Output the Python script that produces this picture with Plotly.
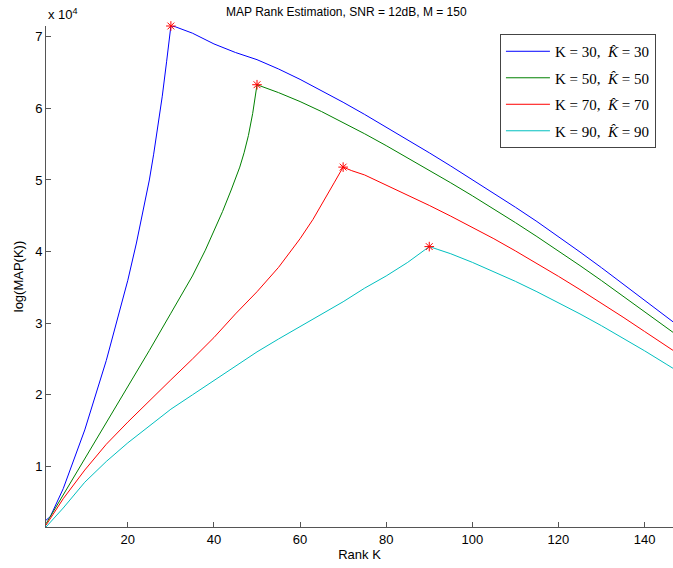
import plotly.graph_objects as go

# ---------------- data (values in units of 1e4) ----------------
K_30 = [1, 2, 5, 10, 15, 20, 22, 25, 26, 27, 28, 29, 30, 31, 32, 35, 40, 45, 50,
        55, 60, 65, 70, 75, 80, 85, 90, 95, 100, 105, 110, 115, 120, 125, 130, 135, 140, 145, 150]
V_30 = [0.25, 0.30, 0.69, 1.51, 2.48, 3.60, 4.12, 5.00, 5.36, 5.75, 6.17, 6.65, 7.15, 7.14, 7.12, 7.05,
        6.90, 6.78, 6.68,
        6.55, 6.405, 6.25, 6.085, 5.915, 5.74, 5.56, 5.38, 5.195, 5.005, 4.815, 4.62, 4.42, 4.21, 3.995,
        3.775, 3.55, 3.325, 3.095, 2.865]

K_50 = [1, 2, 5, 10, 15, 20, 25, 30, 35, 38, 40, 42, 44, 46, 47, 48, 49, 50,
        55, 60, 65, 70, 75, 80, 85, 90, 95, 100, 105, 110, 115, 120, 125, 130, 135, 140, 145, 150]
V_50 = [0.20, 0.30, 0.60, 1.12, 1.62, 2.12, 2.62, 3.14, 3.66, 4.02, 4.28, 4.56, 4.86, 5.18, 5.38, 5.62,
        5.93, 6.33,
        6.22, 6.095, 5.955, 5.805, 5.645, 5.48, 5.31, 5.135, 4.96, 4.78, 4.595, 4.405, 4.21, 4.01, 3.805,
        3.595, 3.38, 3.165, 2.945, 2.725]

K_70 = [1, 2, 5, 10, 15, 20, 25, 30, 35, 40, 45, 50, 55, 58, 60, 63, 65, 68, 70, 72, 75,
        80, 85, 90, 95, 100, 105, 110, 115, 120, 125, 130, 135, 140, 145, 150]
V_70 = [0.18, 0.27, 0.55, 0.95, 1.31, 1.62, 1.92, 2.21, 2.50, 2.80, 3.13, 3.44, 3.78, 4.01, 4.18, 4.45,
        4.65, 4.97, 5.18, 5.13, 5.07,
        4.93, 4.79, 4.645, 4.495, 4.34, 4.18, 4.01, 3.835, 3.655, 3.47, 3.28, 3.085, 2.885, 2.685, 2.485]

K_90 = [1, 2, 5, 10, 15, 20, 25, 30, 35, 40, 45, 50, 55, 60, 65, 70, 75, 80, 85, 88, 90, 92, 95,
        100, 105, 110, 115, 120, 125, 130, 135, 140, 145, 150]
V_90 = [0.155, 0.22, 0.42, 0.78, 1.07, 1.33, 1.57, 1.80, 2.00, 2.20, 2.41, 2.60, 2.78, 2.95, 3.12, 3.30,
        3.49, 3.66, 3.85, 3.98, 4.07, 4.03, 3.97,
        3.85, 3.72, 3.585, 3.44, 3.29, 3.13, 2.965, 2.795, 2.615, 2.43, 2.245]

SERIES_NAMES = ["K = 30,  <i>K̂</i> = 30", "K = 50,  <i>K̂</i> = 50",
                "K = 70,  <i>K̂</i> = 70", "K = 90,  <i>K̂</i> = 90"]
X_TICKS = [20, 40, 60, 80, 100, 120, 140]
Y_TICKS = [1, 2, 3, 4, 5, 6, 7]
Y_TICK_LABELS = ["1", "2", "3", "4", "5", "6", "7"]

COLORS = ["#0000ff", "#008000", "#ff0000", "#00bfbf"]

fig = go.Figure()
series = [(K_30, V_30), (K_50, V_50), (K_70, V_70), (K_90, V_90)]
for i, ((k, v), name, c) in enumerate(zip(series, SERIES_NAMES, COLORS)):
    fig.add_trace(go.Scatter(x=k, y=v, mode="lines", name=name, legendgroup=f"g{i}",
                             line=dict(color=c, width=1)))

# peak markers
pk_x, pk_y = [], []
for k, v in series:
    i = v.index(max(v))
    pk_x.append(k[i])
    pk_y.append(v[i])
fig.add_trace(go.Scatter(x=pk_x, y=pk_y, mode="markers", showlegend=False,
                         cliponaxis=False,
                         marker=dict(symbol="asterisk-open", size=8, color="#ff0000",
                                     line=dict(color="#ff0000", width=1))))

axis_font = dict(family="Liberation Sans, Arial, sans-serif", size=13, color="#000")
fig.update_layout(
    width=673, height=568,
    margin=dict(l=46, r=0, t=26, b=41),
    paper_bgcolor="white", plot_bgcolor="white",
    font=axis_font,
    title=dict(text="MAP Rank Estimation, SNR = 12dB, M = 150", x=0.479, xref="paper",
               xanchor="center", yref="container", y=0.979, yanchor="middle",
               font=dict(family="Liberation Sans, Arial, sans-serif", size=12, color="#000")),
    xaxis=dict(range=[1, 146.6], tickvals=X_TICKS, ticks="inside", ticklen=5,
               tickcolor="#555", showline=True, linecolor="#555", linewidth=1,
               showgrid=False, zeroline=False, mirror=False, automargin=False,
               title=dict(text="Rank K", standoff=2, font=axis_font)),
    yaxis=dict(range=[0.155, 7.15], tickvals=Y_TICKS, ticktext=Y_TICK_LABELS,
               ticks="inside", ticklen=5, tickcolor="#555", showline=True,
               linecolor="#555", linewidth=1, showgrid=False, zeroline=False,
               automargin=False,
               title=dict(text="log(MAP(K))", standoff=8, font=axis_font)),
    legend=dict(x=0.724, y=0.984, xanchor="left", yanchor="top",
                bgcolor="white", bordercolor="#444", borderwidth=1,
                font=dict(family="Liberation Serif, DejaVu Serif, serif", size=15, color="#000"),
                itemwidth=44, tracegroupgap=4, traceorder="grouped"),
    annotations=[dict(text="x 10<sup>4</sup>", xref="paper", yref="paper", x=0, y=1,
                      xanchor="left", yanchor="bottom", showarrow=False, yshift=2,
                      font=dict(family="Liberation Sans, Arial, sans-serif", size=13, color="#000"))],
)

fig.write_html("out.html", config={"displayModeBar": False},
               post_script="document.body.style.margin='0px';document.body.style.overflow='hidden';")
